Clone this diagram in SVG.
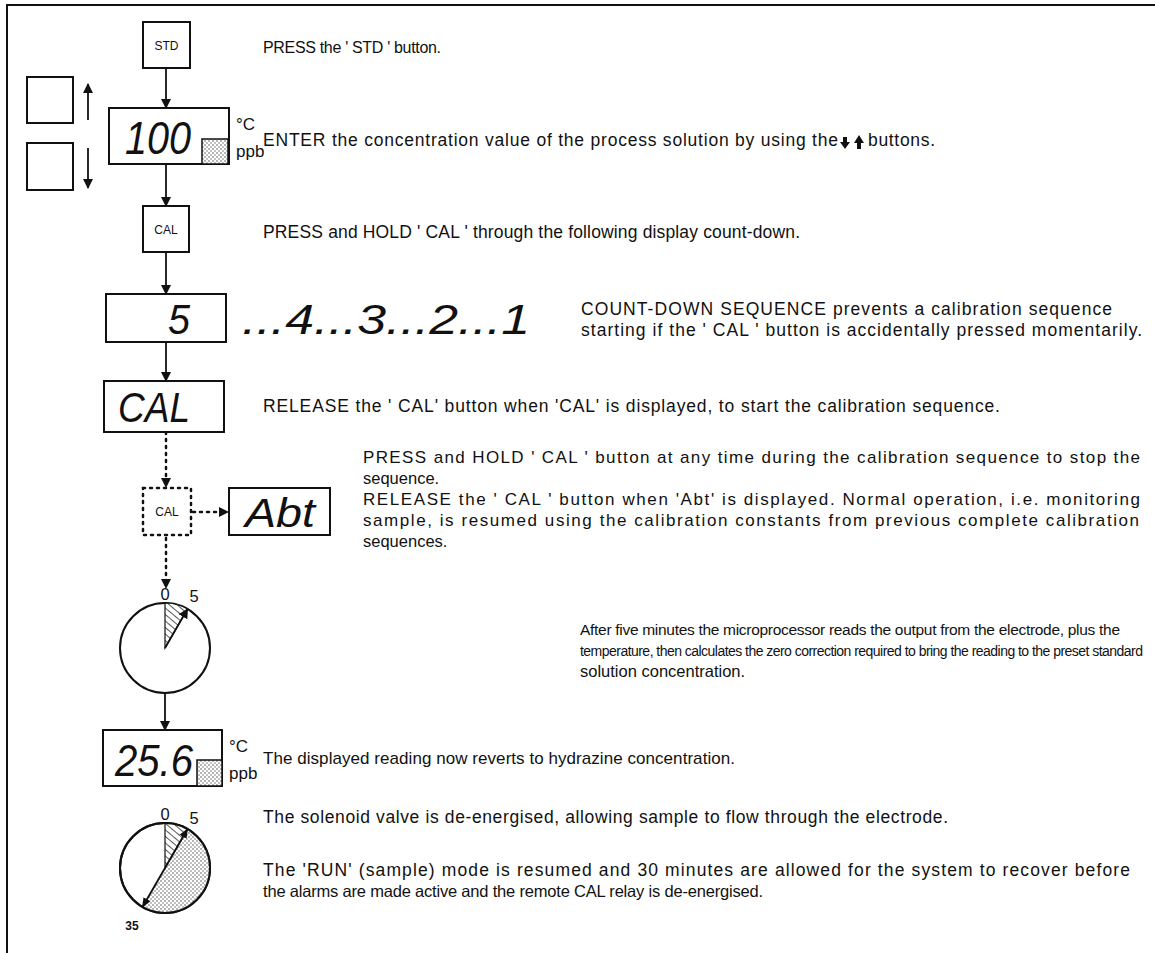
<svg xmlns="http://www.w3.org/2000/svg" width="1155" height="953" viewBox="0 0 1155 953">
<defs>
<style>
.t{font-family:"Liberation Sans",Arial,sans-serif;fill:#111}
.b{font-family:"Liberation Sans",Arial,sans-serif;font-size:12px;fill:#111}
.seg{font-family:"Liberation Sans",Arial,sans-serif;font-style:italic;fill:#111}
.box{fill:#fff;stroke:#111;stroke-width:2}
.dbox{fill:#fff;stroke:#111;stroke-width:2.5;stroke-dasharray:2 5;stroke-linecap:round}
.ln{stroke:#111;stroke-width:1.8;fill:none}
.dl{stroke:#111;stroke-width:2.5;fill:none;stroke-dasharray:2 5;stroke-linecap:round}
.unit{font-family:"Liberation Sans",Arial,sans-serif;font-size:17px;fill:#111}
</style>
<marker id="ah" markerWidth="10" markerHeight="10" refX="9" refY="5" orient="auto" markerUnits="userSpaceOnUse"><path d="M0,0 L10,5 L0,10 Z" fill="#111"/></marker>
<marker id="ah2" markerWidth="10" markerHeight="10" refX="9" refY="5" orient="auto-start-reverse" markerUnits="userSpaceOnUse"><path d="M0,1 L10,5 L0,9 Z" fill="#111"/></marker>
<pattern id="stip" width="4" height="4" patternUnits="userSpaceOnUse"><rect width="4" height="4" fill="#fff"/><circle cx="1" cy="1" r="0.7" fill="#333"/><circle cx="3" cy="3" r="0.7" fill="#555"/></pattern>
<pattern id="hatch" width="5" height="5" patternUnits="userSpaceOnUse" patternTransform="rotate(-50)"><rect width="5" height="5" fill="#fff"/><line x1="0" y1="0" x2="0" y2="5" stroke="#111" stroke-width="1.4"/></pattern>
</defs>
<rect width="1155" height="953" fill="#fff"/>
<path d="M7,953 V5 H1155" fill="none" stroke="#111" stroke-width="2"/>

<g id="connectors">
<line class="ln" x1="166" y1="68" x2="166" y2="108" marker-end="url(#ah)"/>
<line class="ln" x1="166" y1="164" x2="166" y2="206" marker-end="url(#ah)"/>
<line class="ln" x1="166" y1="252" x2="166" y2="294" marker-end="url(#ah)"/>
<line class="ln" x1="166" y1="342" x2="166" y2="381" marker-end="url(#ah)"/>
<line class="dl" x1="166" y1="432" x2="166" y2="480"/>
<path d="M161,478 L166,488 L171,478 Z" fill="#111"/>
<line class="dl" x1="193" y1="512" x2="220" y2="512"/>
<path d="M219,507 L229,512 L219,517 Z" fill="#111"/>
<line class="dl" x1="166" y1="538" x2="166" y2="582"/>
<path d="M161,579 L166,589 L171,579 Z" fill="#111"/>
<line class="ln" x1="165" y1="693" x2="165" y2="730" marker-end="url(#ah)"/>
<line class="ln" x1="88" y1="120" x2="88" y2="84" marker-end="url(#ah)"/>
<line class="ln" x1="88" y1="148" x2="88" y2="188" marker-end="url(#ah)"/>
</g>

<g id="std"><rect class="box" x="143" y="22" width="47" height="46"/><text class="b" x="166.5" y="49.5" text-anchor="middle">STD</text></g>
<g id="upbtn"><rect class="box" x="27" y="77" width="46" height="46"/></g>
<g id="downbtn"><rect class="box" x="27" y="143" width="46" height="47"/></g>
<g id="disp100">
<rect class="box" x="109" y="108" width="120" height="56"/>
<rect x="202" y="139" width="26" height="25" fill="url(#stip)" stroke="#111" stroke-width="1.5"/>
<text class="seg" x="125" y="154" style="font-size:46px" textLength="66" lengthAdjust="spacingAndGlyphs">100</text>
<text class="unit" x="236" y="130">°C</text>
<text class="unit" x="236" y="157">ppb</text>
</g>
<g id="cal1"><rect class="box" x="143" y="206" width="46" height="46"/><text class="b" x="166" y="233.5" text-anchor="middle">CAL</text></g>
<g id="countdown">
<rect class="box" x="106" y="294" width="120" height="48"/>
<text class="seg" x="168" y="334" style="font-size:42px" textLength="22" lengthAdjust="spacingAndGlyphs">5</text>
<text class="seg" x="242" y="334" style="font-size:42px" textLength="288" lengthAdjust="spacingAndGlyphs">...4...3...2...1</text>
</g>
<g id="dispcal">
<rect class="box" x="104" y="381" width="120" height="51"/>
<text class="seg" x="118" y="422" style="font-size:42px" textLength="72" lengthAdjust="spacingAndGlyphs">CAL</text>
</g>
<g id="cal2"><rect class="dbox" x="143" y="488" width="48" height="47"/><text class="b" x="167" y="516" text-anchor="middle">CAL</text></g>
<g id="abt">
<rect class="box" x="229" y="488" width="101" height="47"/>
<text class="seg" x="245" y="527" style="font-size:40px" textLength="70" lengthAdjust="spacingAndGlyphs">Abt</text>
</g>
<g id="timer1">
<circle cx="165" cy="648" r="45" fill="#fff" stroke="#111" stroke-width="2"/>
<path d="M165,648 L165,603 A45,45 0 0 1 187.5,609 Z" fill="url(#hatch)" stroke="#111" stroke-width="1.2"/>
<line class="ln" x1="165" y1="648" x2="187.5" y2="609" marker-end="url(#ah)"/>
<text class="t" x="165" y="600" style="font-size:16.5px" text-anchor="middle">0</text>
<text class="t" x="194" y="602" style="font-size:16.5px" text-anchor="middle">5</text>
</g>
<g id="disp256">
<rect class="box" x="103" y="730" width="119" height="56"/>
<rect x="197" y="760" width="25" height="26" fill="url(#stip)" stroke="#111" stroke-width="1.5"/>
<text class="seg" x="115" y="776" style="font-size:44px" textLength="78" lengthAdjust="spacingAndGlyphs">25.6</text>
<text class="unit" x="229" y="752">°C</text>
<text class="unit" x="229" y="779">ppb</text>
</g>
<g id="timer2">
<circle cx="165" cy="868" r="45" fill="#fff" stroke="#111" stroke-width="2"/>
<path d="M165,868 L187.5,829 A45,45 0 0 1 142.5,907 Z" fill="url(#stip)" stroke="none"/>
<path d="M165,868 L165,823 A45,45 0 0 1 187.5,829 Z" fill="url(#hatch)" stroke="#111" stroke-width="1.2"/>
<circle cx="165" cy="868" r="45" fill="none" stroke="#111" stroke-width="2"/>
<line class="ln" x1="142.5" y1="907" x2="187.5" y2="829" marker-start="url(#ah2)" marker-end="url(#ah2)"/>
<text class="t" x="165" y="820" style="font-size:16.5px" text-anchor="middle">0</text>
<text class="t" x="194" y="824" style="font-size:16.5px" text-anchor="middle">5</text>
<text class="b" x="132" y="930" text-anchor="middle" font-weight="bold">35</text>
</g>

<g id="texts">
<text class="t" x="263" y="53" style="font-size:16px" textLength="178">PRESS the ' STD ' button.</text>
<text class="t" x="263" y="146" style="font-size:17.5px" textLength="575">ENTER the concentration value of the process solution by using the</text>
<path d="M843,137 L847,137 L847,142 L850,142 L845,149 L840,142 L843,142 Z" fill="#111"/>
<path d="M857,149 L861,149 L861,143 L864,143 L859,135 L854,143 L857,143 Z" fill="#111"/>
<text class="t" x="868" y="146" style="font-size:17.5px" textLength="67">buttons.</text>
<text class="t" x="263" y="238" style="font-size:17.5px" textLength="537">PRESS and HOLD ' CAL ' through the following display count-down.</text>
<text class="t" x="581" y="315" style="font-size:17.5px" textLength="531">COUNT-DOWN SEQUENCE prevents a calibration sequence</text>
<text class="t" x="581" y="336" style="font-size:17.5px" textLength="561">starting if the ' CAL ' button is accidentally pressed momentarily.</text>
<text class="t" x="263" y="412" style="font-size:17.5px" textLength="737">RELEASE the ' CAL' button when 'CAL' is displayed, to start the calibration sequence.</text>
<text class="t" x="363" y="463" style="font-size:17px" textLength="777">PRESS and HOLD ' CAL ' button at any time during the calibration sequence to stop the</text>
<text class="t" x="363" y="484" style="font-size:16.5px">sequence.</text>
<text class="t" x="363" y="505" style="font-size:17px" textLength="777">RELEASE the ' CAL ' button when 'Abt' is displayed.  Normal operation, i.e. monitoring</text>
<text class="t" x="363" y="526" style="font-size:17px" textLength="776">sample, is resumed using the calibration constants from previous complete calibration</text>
<text class="t" x="363" y="547" style="font-size:16.5px">sequences.</text>
<text class="t" x="580" y="635" style="font-size:15.5px" textLength="540">After  five  minutes the microprocessor reads the output from the electrode, plus the</text>
<text class="t" x="580" y="656" style="font-size:14px" textLength="563">temperature, then calculates the zero correction required to bring the reading to the preset standard</text>
<text class="t" x="580" y="677" style="font-size:16.5px">solution concentration.</text>
<text class="t" x="263" y="764" style="font-size:17px" textLength="472">The displayed reading now reverts to hydrazine concentration.</text>
<text class="t" x="263" y="823" style="font-size:17.5px" textLength="685">The solenoid valve is de-energised, allowing sample to flow through the electrode.</text>
<text class="t" x="263" y="876" style="font-size:17.5px" textLength="867">The 'RUN' (sample) mode is resumed and 30 minutes are allowed for the system to recover before</text>
<text class="t" x="263" y="897" style="font-size:16.5px" textLength="500">the alarms are made active and the remote CAL relay is de-energised.</text>
</g>
</svg>
